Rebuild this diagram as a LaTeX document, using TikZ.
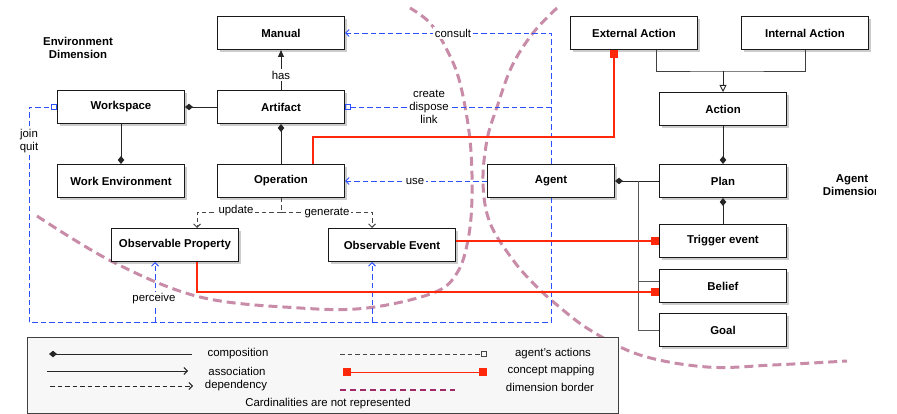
\documentclass[tikz,border=0pt]{standalone}
\usepackage{fontspec}
\setmainfont{Liberation Sans}
\usetikzlibrary{arrows.meta,shadows,calc}

\definecolor{actblue}{RGB}{45,80,255}
\definecolor{mapred}{RGB}{255,40,10}
\definecolor{borderpink}{RGB}{200,140,168}
\definecolor{legendplum}{RGB}{158,42,102}
\definecolor{linegray}{RGB}{70,70,70}

\newcommand\fsz{\fontsize{11.4}{13.3}\selectfont}

\tikzset{
  box/.style={draw=black!90, fill=white, line width=1pt,
    minimum width=127pt, minimum height=33pt, inner sep=2pt,
    font=\fsz\bfseries,
    drop shadow={shadow xshift=2pt, shadow yshift=-2.5pt, opacity=0.4}},
  lbl/.style={font=\fsz, fill=white, inner sep=1.5pt, align=center},
  plain/.style={font=\fsz, inner sep=1pt, align=center},
  dimlabel/.style={font=\fsz\bfseries, inner sep=1pt, align=center},
  conn/.style={draw=black!85, line width=0.9pt},
  comp/.style={conn, -{Diamond[length=8pt,width=6.5pt]}},
  barb/.style={-{Straight Barb[length=3.5pt,width=7pt]}},
  act/.style={draw=actblue, dash pattern=on 5.5pt off 3pt, line width=0.95pt},
  actsq/.style={act, -{Square[open,length=6pt,width=6pt]}},
  dep/.style={draw=linegray, dash pattern=on 4.5pt off 3pt, line width=0.9pt},
  mapping/.style={draw=mapred, line width=1.7pt,
    -{Square[length=8pt,width=8pt,fill=mapred]}},
  dimborder/.style={draw=borderpink, line width=3pt, dash pattern=on 9pt off 5pt}
}

\begin{document}
\begin{tikzpicture}[x=1pt,y=-1pt]
\useasboundingbox (0,0) rectangle (897,414);

% dimension borders
\draw[dimborder] plot[smooth, tension=0.6] coordinates {
  (37,216) (113,262) (200,297) (300,308) (367,308) (433,293) (457,273)
  (468,240) (472,197) (470,140) (460,83) (447,50) (430,23) (410,8)};
\draw[dimborder] plot[smooth, tension=0.6] coordinates {
  (557,8) (533,33) (512,66) (497,107) (487,140) (483,183) (490,223)
  (513,260) (535,285) (557,305) (590,330) (640,355) (707,367) (773,365) (847,361)};

% legend frame
\draw[draw=black!75, fill=black!3, line width=0.9pt] (27,337) rectangle (618,413);

% environment side
\node[box] (manual)    at (281,33)  {Manual};
\node[box] (workspace) at (121,107) {Workspace};
\node[box] (artifact)  at (281,107) {Artifact};
\node[box] (workenv)   at (121,181) {Work Environment};
\node[box] (operation) at (281,181) {Operation};
\node[box] (obsprop)   at (175,245) {Observable Property};
\node[box] (obsevent)  at (392,245) {Observable Event};

% agent side
\node[box] (extaction) at (634,33)  {External Action};
\node[box] (intaction) at (805,33)  {Internal Action};
\node[box] (action)    at (723,109) {Action};
\node[box] (agent)     at (551,181) {Agent};
\node[box] (plan)      at (723,181) {Plan};
\node[box] (trigger)   at (723,241) {Trigger event};
\node[box] (belief)    at (723,286) {Belief};
\node[box] (goal)      at (723,330) {Goal};

\node[dimlabel] (envdim) at (78,48) {Environment\\Dimension};
\begin{scope}
  \clip (780,160) rectangle (875,205);
  \node[dimlabel] (agdim) at (852,185) {Agent\\Dimension};
\end{scope}

% helper points
\coordinate (genc)  at (723,71);
\coordinate (trunk) at (638,181);
\coordinate (depc)  at (281,212);
\coordinate (joinb) at (29,322);

% compositions and associations
\draw[conn, -{Triangle[length=7pt,width=6pt]}] (artifact.north) -- (manual.south);
\draw[comp] (artifact.west) -- (workspace.east);
\draw[comp] (workspace.south) -- (workenv.north);
\draw[comp] (operation.north) -- (artifact.south);
\draw[comp] (action.south) -- (plan.north);
\draw[comp] (trigger.north) -- (plan.south);
\draw[comp] (plan.west) -- (agent.east);
\draw[conn, draw=black!65] (trunk) |- (goal.west);
\path ([yshift=5pt]belief.west) coordinate (beliefin);
\draw[conn, draw=black!65] (beliefin -| trunk) -- (beliefin);

% generalisation
\draw[conn, draw=black!75] ([xshift=22pt]extaction.south) |- (genc) -| (intaction.south);
\draw[conn, -{Triangle[open,length=7pt,width=7pt]}] (genc) -- (action.north);

% dependencies
\draw[dep] (operation.south) -- (depc);
\draw[dep, barb] (depc) -| ([xshift=22pt]obsprop.north);
\draw[dep, barb] (depc) -| ([xshift=-20pt]obsevent.north);

% agent's actions
\draw[act, barb] (agent.north) |- (manual.east);
\draw[actsq] (agent.north |- artifact.east) -- (artifact.east);
\draw[act, barb] (agent.west) -- (operation.east);
\draw[act] (agent.south) |- (joinb);
\draw[actsq] (joinb) |- (workspace.west);
\draw[act, barb] ([xshift=-20pt]obsprop.south |- joinb) -- ([xshift=-20pt]obsprop.south);
\draw[act, barb] ([xshift=-20pt]obsevent.south |- joinb) -- ([xshift=-20pt]obsevent.south);

% concept mappings
\draw[mapping] ([xshift=32pt]operation.north) -- ++(0,-27) -| ([xshift=-20pt]extaction.south);
\draw[mapping] (obsevent.east |- trigger.west) -- (trigger.west);
\draw[mapping] ([xshift=22pt]obsprop.south) |- ([yshift=-6pt]belief.west);

% connector labels
\node[lbl] (haslbl)      at (281,75)  {has};
\node[lbl] (consultlbl)  at (453,33)  {consult};
\node[lbl] (createlbl)   at (429,107) {create\\dispose\\link};
\node[lbl] (uselbl)      at (415,181) {use};
\node[lbl] (joinlbl)     at (29,141)  {join\\quit};
\node[lbl] (perceivelbl) at (154,299) {perceive};
\node[lbl] (updatelbl)   at (236,211) {update};
\node[lbl] (generatelbl) at (327,213) {generate};

% legend
\coordinate (lcompa) at (49,354);  \coordinate (lcompb) at (192,354);
\coordinate (lassoa) at (47,371);  \coordinate (lassob) at (188,371);
\coordinate (ldepa)  at (50,386);  \coordinate (ldepb)  at (193,386);
\coordinate (lacta)  at (340,354); \coordinate (lactb)  at (487,354);
\coordinate (lmapa)  at (343,372); \coordinate (lmapb)  at (487,372);
\coordinate (ldima)  at (340,390); \coordinate (ldimb)  at (455,390);

\draw[conn, {Diamond[length=8pt,width=6.5pt]}-] (lcompa) -- (lcompb);
\draw[conn, barb] (lassoa) -- (lassob);
\draw[dep, draw=black!85, barb] (ldepa) -- (ldepb);
\draw[dep, -{Square[open,length=6pt,width=6pt]}] (lacta) -- (lactb);
\draw[draw=mapred, line width=1pt,
  {Square[length=8pt,width=8pt,fill=mapred]}-{Square[length=8pt,width=8pt,fill=mapred]}]
  (lmapa) -- (lmapb);
\draw[draw=legendplum, line width=2pt, dash pattern=on 6pt off 4pt] (ldima) -- (ldimb);

\node[plain] (lgcomp) at (238,354) {composition};
\node[plain] (lgasso) at (237,371) {association};
\node[plain] (lgdep)  at (236,386) {dependency};
\node[plain] (lgact)  at (553,354) {agent's actions};
\node[plain] (lgmap)  at (551,371) {concept mapping};
\node[plain] (lgdim)  at (550,387) {dimension border};
\node[plain] (lgcard) at (328,404) {Cardinalities are not represented};

\end{tikzpicture}
\end{document}
